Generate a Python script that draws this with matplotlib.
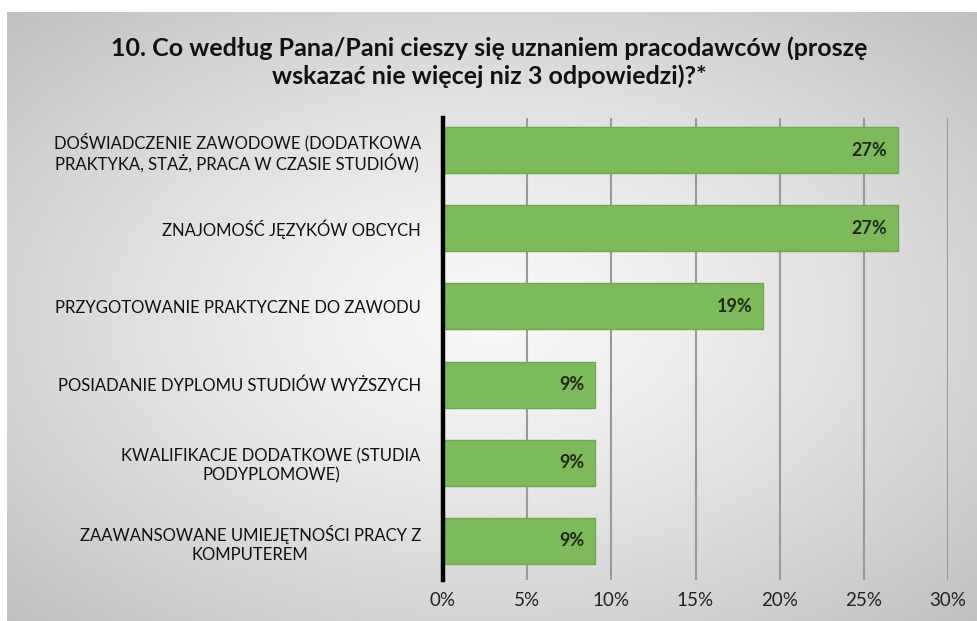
import numpy as np
import matplotlib.pyplot as plt

plt.rcParams['font.family'] = ['Lato', 'DejaVu Sans']

# Dane
kategorie = [
    "DOŚWIADCZENIE ZAWODOWE (DODATKOWA\nPRAKTYKA, STAŻ, PRACA W CZASIE STUDIÓW)",
    "ZNAJOMOŚĆ JĘZYKÓW OBCYCH",
    "PRZYGOTOWANIE PRAKTYCZNE DO ZAWODU",
    "POSIADANIE DYPLOMU STUDIÓW WYŻSZYCH",
    "KWALIFIKACJE DODATKOWE (STUDIA\nPODYPLOMOWE)",
    "ZAAWANSOWANE UMIEJĘTNOŚCI PRACY Z\nKOMPUTEREM",
]
wartosci = [0.27, 0.27, 0.19, 0.09, 0.09, 0.09]
etykiety = ["27%", "27%", "19%", "9%", "9%", "9%"]
ticki = [0, 0.05, 0.10, 0.15, 0.20, 0.25, 0.30]
ticki_txt = ["0%", "5%", "10%", "15%", "20%", "25%", "30%"]

fig = plt.figure(figsize=(9.78, 6.21), dpi=100)
fig.patch.set_facecolor('white')

# tlo z gradientem (radialnym)
bg = fig.add_axes([7/978, 0, 1 - 7/978, 1 - 12/621], zorder=-1)
yy, xx = np.mgrid[-1:1:300j, -1:1:400j]
r = np.sqrt(xx**2 + yy**2) / np.sqrt(2)
bg.imshow(0.97 - 0.22 * r**1.3, cmap='gray', vmin=0, vmax=1, aspect='auto', extent=[0, 1, 0, 1])
bg.axis('off')

ax = fig.add_axes([443/978, 1 - 580/621, (948 - 443)/978, (580 - 118)/621])
ax.patch.set_alpha(0)

y = np.arange(len(kategorie))
ax.barh(y, wartosci, height=0.59, color='#7dba5b', edgecolor='#6ea94c', linewidth=1, zorder=3)
for i in range(len(wartosci)):
    ax.text(wartosci[i] - 0.006, y[i], etykiety[i], ha='right', va='center',
            fontsize=13, fontweight='bold', color='#1f2a1a', zorder=4)

ax.set_xlim(0, 0.30)
ax.set_ylim(5.5, -0.41)
ax.set_xticks(ticki)
ax.set_xticklabels(ticki_txt, fontsize=13.5, color='#222222')
ax.set_yticks(y)
ax.set_yticklabels(kategorie, fontsize=12, color='#111111', multialignment='center')
ax.tick_params(axis='y', length=0, pad=16)
ax.tick_params(axis='x', length=0, pad=9)
ax.grid(axis='x', color='#9a9a9a', linewidth=1.5, zorder=1)
for s in ['top', 'right', 'bottom']:
    ax.spines[s].set_visible(False)
ax.spines['left'].set_linewidth(3.2)
ax.spines['left'].set_color('black')
ax.spines['left'].set_zorder(5)

fig.text(0.5, 1 - 62/621,
         "10. Co według Pana/Pani cieszy się uznaniem pracodawców (proszę\nwskazać nie więcej niz 3 odpowiedzi)?*",
         ha='center', va='center', fontsize=18, fontweight='bold', color='#111111', linespacing=1.2)

fig.savefig('out.png', dpi=100)
